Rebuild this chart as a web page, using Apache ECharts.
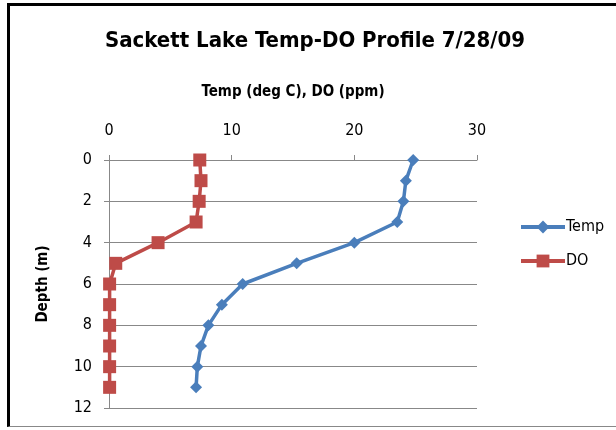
<!DOCTYPE html>
<html>
<head>
<meta charset="utf-8">
<script src="https://cdn.jsdelivr.net/npm/echarts@6/dist/echarts.min.js"></script>
<style>
html,body{margin:0;padding:0;background:#fff;}
#frame{position:absolute;left:7px;top:3px;width:620px;height:424px;border-top:3px solid #000;border-left:3px solid #000;border-bottom:1px solid #888;box-sizing:border-box;}
#chart{position:absolute;left:0;top:0;width:616px;height:430px;}
</style>
</head>
<body>
<div id="frame"></div>
<div id="chart"></div>
<script>
const depths = [0, 1, 2, 3, 4, 5, 6, 7, 8, 9, 10, 11];
const tempValues = [24.8, 24.2, 24.0, 23.5, 20.0, 15.3, 10.9, 9.2, 8.1, 7.5, 7.2, 7.1];
const doValues = [7.4, 7.5, 7.35, 7.1, 4.0, 0.55, 0.05, 0.05, 0.05, 0.05, 0.05, 0.05];
const xTicks = [0, 10, 20, 30];
const yTicks = [0, 2, 4, 6, 8, 10, 12];

const font = '"Liberation Sans Narrow", "DejaVu Sans Condensed", "Open Sans", sans-serif';
const chart = echarts.init(document.getElementById('chart'), null, {renderer: 'canvas'});
chart.setOption({
  backgroundColor: 'transparent',
  animation: false,
  title: {
    text: 'Sackett Lake Temp-DO Profile 7/28/09',
    left: 310, top: 25, textAlign: 'center',
    textStyle: {fontFamily: font, fontSize: 22, fontWeight: 'bold', color: '#000'}
  },
  legend: {
    orient: 'vertical', left: 514, top: 214, itemGap: 18,
    itemWidth: 44, itemHeight: 16,
    lineStyle: {width: 4},
    textStyle: {fontFamily: font, fontSize: 16, color: '#000', padding: [0,0,0,-4]},
    data: ['Temp', 'DO']
  },
  grid: {left: 109, right: 139, top: 160, bottom: 22},
  xAxis: {
    type: 'value', position: 'top', min: 0, max: 30, interval: 10,
    name: 'Temp (deg C), DO (ppm)', nameLocation: 'middle', nameGap: 60,
    nameTextStyle: {fontFamily: font, fontSize: 15, fontWeight: 'bold', color: '#000'},
    axisLine: {show: true, lineStyle: {color: '#888', width: 1}},
    axisTick: {show: true, length: 5, lineStyle: {color: '#888'}},
    axisLabel: {fontFamily: font, fontSize: 16, color: '#000', margin: 21,
      formatter: v => xTicks.includes(v) ? String(v) : ''},
    splitLine: {show: false}
  },
  yAxis: {
    type: 'value', inverse: true, min: 0, max: 12, interval: 2,
    name: 'Depth (m)', nameLocation: 'middle', nameGap: 58, nameRotate: 90,
    nameTextStyle: {fontFamily: font, fontSize: 15, fontWeight: 'bold', color: '#000'},
    axisLine: {show: true, lineStyle: {color: '#888', width: 1}},
    axisTick: {show: true, length: 5, lineStyle: {color: '#888'}},
    axisLabel: {fontFamily: font, fontSize: 16, color: '#000', margin: 17,
      formatter: v => yTicks.includes(v) ? String(v) : ''},
    splitLine: {show: true, lineStyle: {color: '#888', width: 1}}
  },
  series: [
    {
      name: 'Temp', type: 'line', symbol: 'diamond', symbolSize: 12,
      data: tempValues.map((v, i) => [v, depths[i]]),
      lineStyle: {color: '#4A7EBB', width: 3.5},
      itemStyle: {color: '#4A7EBB'}
    },
    {
      name: 'DO', type: 'line', symbol: 'rect', symbolSize: 13,
      data: doValues.map((v, i) => [v, depths[i]]),
      lineStyle: {color: '#BE4B48', width: 3.5},
      itemStyle: {color: '#BE4B48'}
    }
  ]
});
</script>
</body>
</html>
